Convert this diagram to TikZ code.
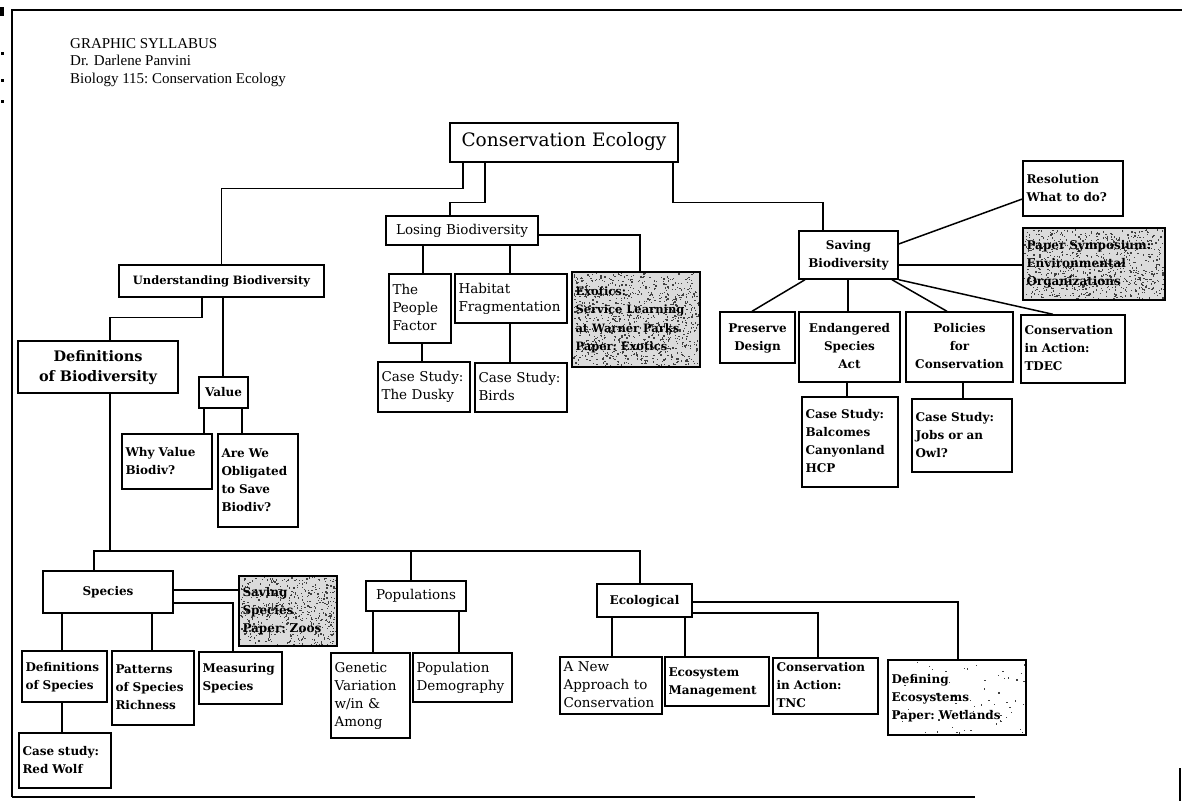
\documentclass[tikz,border=0pt]{standalone}
\usepackage{fontspec}
\setmainfont{Liberation Serif}
\newfontfamily\boxfont{DejaVu Serif}
\usetikzlibrary{calc}
\setlength\parindent{0pt}

% box: [options]{name}{x1}{y1}{x2}{y2}{column type l/c}{lines}
\newcommand{\bx}[8][]{%
  \pgfmathsetmacro\bxtw{#5-#3-7}%
  \pgfmathsetmacro\bxh{#6-#4}%
  \pgfmathsetmacro\bxcx{(#3+#5)/2}%
  \pgfmathsetmacro\bxcy{(#4+#6)/2}%
  \node[box, text width=\bxtw pt, minimum height=\bxh pt, #1] (#2) at (\bxcx,\bxcy)
    {\begin{tabular}{@{}#7@{}}#8\end{tabular}};}

% grainy screen tone inside a rectangle: {x1}{y1}{x2}{y2}{dots}{shade}
\newcommand{\stip}[6]{%
  \fill[black!#6] (#1,#2) rectangle (#3,#4);
  \foreach \k in {1,...,#5}{%
    \pgfmathsetmacro\sx{#1+1+rnd*(#3-#1-3)}%
    \pgfmathsetmacro\sy{#2+1+rnd*(#4-#2-3)}%
    \fill[black!75] (\sx,\sy) rectangle ++(1.3,1.3);}}

\tikzset{
  box/.style={draw, line width=1.4pt, inner xsep=3.5pt, inner ysep=1pt, align=left,
    font=\boxfont\fontsize{13.5}{18}\selectfont},
  bb/.style={font=\boxfont\bfseries\fontsize{12}{18}\selectfont},
  ctr/.style={align=center},
  conn/.style={line width=1.5pt},
  frame/.style={line width=1.5pt},
}

\begin{document}
\begin{tikzpicture}[x=1pt, y=-1pt]
\useasboundingbox (0,0) rectangle (1182,801);
\pgfmathsetseed{4711}

% page frame and edge marks
\draw[frame] (12,797) -- (12,10) -- (1182,10);
\draw[frame] (12,797) -- (975,797);
\draw[frame] (1180,768) -- (1180,801);
\fill (0,7) rectangle (4,16);
\fill (1,52) rectangle (3.5,55);
\fill (1,79) rectangle (3.5,82);
\fill (1,100) rectangle (3.5,103);

% heading
\node[anchor=north west, align=left, inner sep=0pt,
      font=\fontsize{15}{17.5}\selectfont] (head) at (70,38)
  {GRAPHIC SYLLABUS\\Dr. Darlene Panvini\\Biology 115:\ Conservation Ecology};

% screened boxes: tone first, frame and text on top
\stip{572}{272}{700}{367}{900}{14}
\stip{1023}{228}{1165}{300}{760}{14}
\stip{239}{576}{337}{646}{520}{14}
\stip{888}{660}{1026}{735}{60}{0}

% root
\bx[ctr, font=\boxfont\fontsize{18.5}{22}\selectfont]{ce}{450}{123}{678}{162}{c}{Conservation Ecology}

% losing biodiversity branch
\bx[ctr]{lb}{386}{216}{538}{245}{c}{Losing Biodiversity}
\bx{pf}{389}{274}{451}{343}{l}{The\\People\\Factor}
\bx{hf}{455}{274}{567}{323}{l}{Habitat\\Fragmentation}
\bx[bb, font=\boxfont\bfseries\fontsize{11.5}{18.5}\selectfont]{exo}{572}{272}{700}{367}{l}{Exotics:\\Service Learning\\at Warner Parks\\Paper:\ Exotics}
\bx{dusky}{378}{362}{470}{412}{l}{Case Study:\\The Dusky}
\bx{birds}{475}{363}{567}{412}{l}{Case Study:\\Birds}

% saving biodiversity branch
\bx[bb, ctr]{sb}{799}{231}{898}{279}{c}{Saving\\Biodiversity}
\bx[bb]{res}{1023}{161}{1123}{216}{l}{Resolution\\What to do?}
\bx[bb]{psy}{1023}{228}{1165}{300}{l}{Paper Symposium:\\Environmental\\Organizations}
\bx[bb, ctr]{pd}{720}{312}{795}{363}{c}{Preserve\\Design}
\bx[bb, ctr]{esa}{799}{312}{900}{382}{c}{Endangered\\Species\\Act}
\bx[bb, ctr]{pol}{906}{312}{1013}{382}{c}{Policies\\for\\Conservation}
\bx[bb]{tdec}{1021}{315}{1125}{383}{l}{Conservation\\in Action:\\TDEC}
\bx[bb]{bal}{802}{397}{898}{487}{l}{Case Study:\\Balcomes\\Canyonland\\HCP}
\bx[bb]{jobs}{912}{399}{1012}{472}{l}{Case Study:\\Jobs or an\\Owl?}

% understanding biodiversity branch
\bx[bb, ctr, font=\boxfont\bfseries\fontsize{11.5}{18}\selectfont]{ub}{119}{265}{324}{297}{c}{Understanding Biodiversity}
\bx[bb, ctr, font=\boxfont\bfseries\fontsize{14.5}{20}\selectfont]{dob}{18}{341}{178}{393}{c}{Definitions\\of Biodiversity}
\bx[bb, ctr]{val}{199}{377}{248}{408}{c}{Value}
\bx[bb]{why}{122}{434}{212}{489}{l}{Why Value\\Biodiv?}
\bx[bb]{oblig}{218}{434}{298}{527}{l}{Are We\\Obligated\\to Save\\Biodiv?}

% species level
\bx[bb, ctr]{sp}{43}{571}{173}{613}{c}{Species}
\bx[bb]{ssp}{239}{576}{337}{646}{l}{Saving\\Species\\Paper:\ Zoos}
\bx[bb]{dos}{22}{651}{107}{702}{l}{Definitions\\of Species}
\bx[bb]{pat}{112}{651}{194}{725}{l}{Patterns\\of Species\\Richness}
\bx[bb]{meas}{199}{652}{282}{704}{l}{Measuring\\Species}
\bx[bb]{rw}{19}{733}{111}{788}{l}{Case study:\\Red Wolf}

% population level
\bx[ctr]{pop}{366}{581}{466}{611}{c}{Populations}
\bx{gen}{331}{653}{410}{738}{l}{Genetic\\Variation\\w/in \&\\Among}
\bx{dem}{413}{653}{512}{702}{l}{Population\\Demography}

% ecological level
\bx[bb, ctr]{eco}{597}{584}{692}{617}{c}{Ecological}
\bx{anew}{560}{657}{662}{714}{l}{A New\\Approach to\\Conservation}
\bx[bb]{ecm}{665}{657}{769}{706}{l}{Ecosystem\\Management}
\bx[bb]{tnc}{773}{658}{878}{714}{l}{Conservation\\in Action:\\TNC}
\bx[bb]{def}{888}{660}{1026}{735}{l}{Defining\\Ecosystems\\Paper:\ Wetlands}

% connectors from the root
\draw[conn] (ce.south -| 463,0) -- ++(0,26) -| (ub.north);
\draw[conn] (ce.south -| 485,0) -- ++(0,40) -| (lb.north -| 450,0);
\draw[conn] (ce.south -| 673,0) -- ++(0,40) -| (sb.north -| 823,0);

% losing biodiversity
\draw[conn] (lb.east |- 0,235) -| (exo.north -| 640,0);
\draw[conn] (lb.south -| 423,0) -- (pf.north -| 423,0);
\draw[conn] (lb.south -| 510,0) -- (hf.north -| 510,0);
\draw[conn] (pf.south -| 422,0) -- (dusky.north -| 422,0);
\draw[conn] (hf.south -| 510,0) -- (birds.north -| 510,0);

% saving biodiversity
\draw[conn] (sb.east |- 0,244) -- (res.west |- 0,199);
\draw[conn] (sb.east |- 0,265) -- (psy.west |- 0,265);
\draw[conn] (sb.south -| 805,0) -- (pd.north -| 752,0);
\draw[conn] (sb.south -| 848,0) -- (esa.north -| 848,0);
\draw[conn] (sb.south -| 892,0) -- (pol.north -| 947,0);
\draw[conn] (sb.south east) -- (tdec.north -| 1053,0);
\draw[conn] (esa.south -| 847,0) -- (bal.north -| 847,0);
\draw[conn] (pol.south -| 963,0) -- (jobs.north -| 963,0);

% understanding biodiversity
\draw[conn] (ub.south -| 202,0) -- ++(0,20) -| (dob.north -| 110,0);
\draw[conn] (ub.south -| 223,0) -- (val.north -| 223,0);
\draw[conn] (val.south -| 204,0) -- (why.north -| 204,0);
\draw[conn] (val.south -| 242,0) -- (oblig.north -| 242,0);

% levels of biodiversity
\coordinate (trunk) at (110,551);
\draw[conn] (dob.south -| 110,0) -- (trunk);
\draw[conn] (sp.north -| 94,0) |- (trunk) -| (eco.north -| 640,0);
\draw[conn] (pop.north -| 411,0) -- (trunk -| 411,0);

\draw[conn] (sp.east |- 0,590) -- (ssp.west |- 0,590);
\draw[conn] (sp.east |- 0,603) -| (meas.north -| 233,0);
\draw[conn] (sp.south -| 62,0) -- (dos.north -| 62,0);
\draw[conn] (sp.south -| 152,0) -- (pat.north -| 152,0);
\draw[conn] (dos.south -| 62,0) -- (rw.north -| 62,0);

\draw[conn] (pop.south -| 373,0) -- (gen.north -| 373,0);
\draw[conn] (pop.south -| 459,0) -- (dem.north -| 459,0);

\draw[conn] (eco.south -| 612,0) -- (anew.north -| 612,0);
\draw[conn] (eco.south -| 685,0) -- (ecm.north -| 685,0);
\draw[conn] (eco.east |- 0,613) -| (tnc.north -| 818,0);
\draw[conn] (eco.east |- 0,602) -| (def.north -| 958,0);
\end{tikzpicture}
\end{document}
